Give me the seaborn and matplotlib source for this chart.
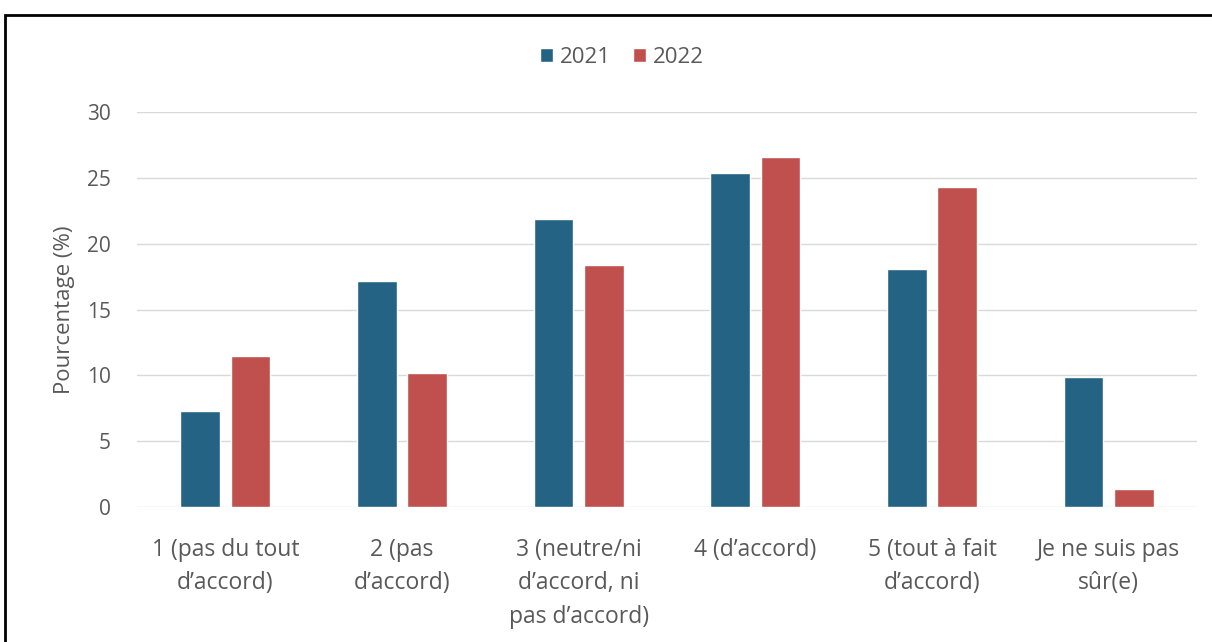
import pandas as pd
import numpy as np
import matplotlib
matplotlib.use('Agg')
import matplotlib.pyplot as plt
import seaborn as sns
from matplotlib.patches import Rectangle

# Survey answers (percent of respondents)
CATEGORIES = ['1 (pas du tout\nd\u2019accord)', '2 (pas\nd\u2019accord)',
              '3 (neutre/ni\nd\u2019accord, ni\npas d\u2019accord)', '4 (d\u2019accord)',
              '5 (tout \u00e0 fait\nd\u2019accord)', 'Je ne suis pas\ns\u00fbr(e)']
VALUES_2021 = [7.3, 17.2, 21.9, 25.4, 18.1, 9.9]
VALUES_2022 = [11.5, 10.2, 18.4, 26.6, 24.3, 1.4]
YEARS = ['2021', '2022']
COLORS = ['#246384', '#C0504D']
YTICKS = [0, 5, 10, 15, 20, 25, 30]

sns.set_theme(style='white')
plt.rcParams['font.family'] = ['Open Sans', 'DejaVu Sans']
TXT = '#595959'

df = pd.DataFrame({
    'cat': CATEGORIES * 2,
    'year': [YEARS[0]] * len(CATEGORIES) + [YEARS[1]] * len(CATEGORIES),
    'val': VALUES_2021 + VALUES_2022,
})

fig = plt.figure(figsize=(12.12, 6.42), dpi=100)
ax = fig.add_axes([0.113, 0.2103, 0.8746, 0.6152])

sns.barplot(data=df, x='cat', y='val', hue='year', palette=COLORS,
            width=0.57, gap=0.21, ax=ax, saturation=1, legend=True)

ax.set_xlim(-0.5, len(CATEGORIES) - 0.5)
ax.set_ylim(0, 30)
ax.set_yticks(YTICKS)
ax.set_yticklabels([str(t) for t in YTICKS], fontsize=15, color=TXT)
ax.set_xticks(range(len(CATEGORIES)))
ax.set_xticklabels(CATEGORIES, fontsize=16.5, color=TXT, linespacing=1.53)
ax.tick_params(axis='x', length=0, pad=22)
ax.tick_params(axis='y', length=0, pad=19)
ax.set_xlabel('')
ax.set_ylabel('Pourcentage (%)', fontsize=16, color=TXT, labelpad=8)
ax.yaxis.grid(True, color='#D9D9D9', linewidth=1)
ax.set_axisbelow(True)
for s in ax.spines.values():
    s.set_visible(False)

handles, labels = ax.get_legend_handles_labels()
ax.legend(handles, labels, loc='center', bbox_to_anchor=(0.4575, 1.139),
          ncol=2, frameon=False, fontsize=16, handlelength=0.6,
          handleheight=0.6, handletextpad=0.3, columnspacing=1.0,
          labelcolor=TXT)

# outer frame as in the source screenshot
fig.patches.append(Rectangle((0.0041, -0.05), 1.1, 0.9766 + 0.05,
                             transform=fig.transFigure, fill=False,
                             edgecolor='black', linewidth=2, zorder=10))

plt.savefig('out.png', dpi=100)
plt.close()
